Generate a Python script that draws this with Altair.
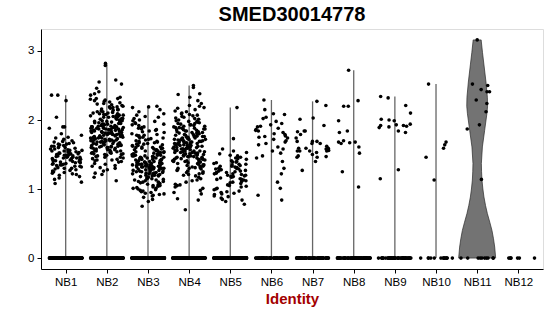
import altair as alt
import pandas as pd

groups = ["NB1", "NB2", "NB3", "NB4", "NB5", "NB6", "NB7", "NB8", "NB9", "NB10", "NB11", "NB12"]

# number of cells with zero expression in each identity
zero_counts = [250, 250, 250, 250, 250, 70, 70, 70, 50, 14, 10, 7]

nb1 = [2.36, 2.36, 2.28, 2.04, 1.90, 1.90, 1.88, 1.80, 1.78, 1.75, 1.74, 1.72, 1.70, 1.69, 1.68, 1.67,
       1.66, 1.65, 1.65, 1.64, 1.63, 1.62, 1.62, 1.61, 1.60, 1.60, 1.59, 1.58, 1.58, 1.57, 1.56, 1.56,
       1.55, 1.55, 1.54, 1.54, 1.53, 1.53, 1.52, 1.52, 1.51, 1.51, 1.50, 1.50, 1.50, 1.49, 1.49, 1.48,
       1.48, 1.47, 1.47, 1.46, 1.46, 1.46, 1.45, 1.45, 1.44, 1.44, 1.43, 1.43, 1.42, 1.42, 1.41, 1.41,
       1.40, 1.40, 1.39, 1.39, 1.38, 1.38, 1.37, 1.37, 1.36, 1.36, 1.35, 1.35, 1.34, 1.33, 1.33, 1.32,
       1.31, 1.30, 1.30, 1.29, 1.28, 1.27, 1.26, 1.25, 1.24, 1.23, 1.22, 1.21, 1.20, 1.18, 1.16, 1.14,
       1.10, 1.08]

nb2 = [2.82, 2.79, 2.58, 2.55, 2.52, 2.46, 2.41, 2.38, 2.36, 2.33, 2.31, 2.31, 2.30,
       2.29, 2.28, 2.27, 2.26, 2.25, 2.24, 2.23, 2.22, 2.21, 2.20,
       2.19, 2.19, 2.18, 2.17, 2.16, 2.15, 2.15, 2.14, 2.13, 2.12, 2.12, 2.11, 2.10, 2.10,
       2.09, 2.09, 2.08, 2.08, 2.07, 2.07, 2.06, 2.06, 2.05, 2.05, 2.04, 2.04, 2.03, 2.03, 2.02, 2.02,
       2.01, 2.01, 2.00, 2.00,
       1.99, 1.99, 1.98, 1.98, 1.97, 1.97, 1.96, 1.96, 1.96, 1.95, 1.95, 1.94, 1.94, 1.94, 1.93, 1.93,
       1.92, 1.92, 1.92, 1.91, 1.91, 1.91, 1.90, 1.90, 1.90, 1.90,
       1.89, 1.89, 1.89, 1.88, 1.88, 1.88, 1.87, 1.87, 1.87, 1.86, 1.86, 1.86, 1.85, 1.85, 1.85, 1.84,
       1.84, 1.84, 1.83, 1.83, 1.83, 1.82, 1.82, 1.82, 1.81, 1.81, 1.81, 1.80, 1.80, 1.80,
       1.79, 1.79, 1.79, 1.78, 1.78, 1.78, 1.77, 1.77, 1.77, 1.76, 1.76, 1.76, 1.75, 1.75, 1.75, 1.74,
       1.74, 1.74, 1.73, 1.73, 1.73, 1.72, 1.72, 1.72, 1.71, 1.71, 1.71, 1.70, 1.70, 1.70,
       1.69, 1.69, 1.69, 1.68, 1.68, 1.68, 1.67, 1.67, 1.66, 1.66, 1.66, 1.65, 1.65, 1.64, 1.64, 1.64,
       1.63, 1.63, 1.62, 1.62, 1.62, 1.61, 1.61, 1.60, 1.60, 1.60,
       1.59, 1.59, 1.58, 1.58, 1.57, 1.57, 1.56, 1.56, 1.55, 1.55, 1.54, 1.54, 1.53, 1.53, 1.52, 1.52,
       1.51, 1.51, 1.50, 1.50,
       1.49, 1.48, 1.47, 1.46, 1.46, 1.45, 1.44, 1.43, 1.42, 1.42, 1.41, 1.40,
       1.39, 1.37, 1.36, 1.34, 1.33, 1.31, 1.30, 1.28, 1.26, 1.23, 1.21, 1.17, 1.12]

nb3 = [2.20, 2.19, 2.18, 2.15, 2.12, 2.09, 2.07, 2.05, 2.04, 2.02, 2.00,
       1.99, 1.98, 1.96, 1.95, 1.94, 1.93, 1.92, 1.90, 1.89, 1.88, 1.87, 1.86, 1.85, 1.84, 1.83, 1.82, 1.80,
       1.79, 1.78, 1.78, 1.77, 1.76, 1.75, 1.74, 1.74, 1.73, 1.72, 1.71, 1.70,
       1.69, 1.69, 1.68, 1.67, 1.67, 1.66, 1.65, 1.65, 1.64, 1.63, 1.63, 1.62, 1.61, 1.61, 1.60, 1.60,
       1.59, 1.59, 1.58, 1.58, 1.57, 1.57, 1.56, 1.56, 1.55, 1.55, 1.54, 1.54, 1.53, 1.53, 1.52, 1.52,
       1.51, 1.51, 1.50, 1.50,
       1.49, 1.49, 1.49, 1.48, 1.48, 1.48, 1.47, 1.47, 1.46, 1.46, 1.46, 1.45, 1.45, 1.45, 1.44, 1.44,
       1.43, 1.43, 1.43, 1.42, 1.42, 1.41, 1.41, 1.41, 1.40, 1.40,
       1.39, 1.39, 1.39, 1.38, 1.38, 1.38, 1.37, 1.37, 1.37, 1.36, 1.36, 1.36, 1.35, 1.35, 1.35, 1.34,
       1.34, 1.34, 1.33, 1.33, 1.33, 1.32, 1.32, 1.32, 1.31, 1.31, 1.31, 1.30, 1.30, 1.30,
       1.29, 1.29, 1.28, 1.28, 1.28, 1.27, 1.27, 1.26, 1.26, 1.25, 1.25, 1.25, 1.24, 1.24, 1.23, 1.23,
       1.22, 1.22, 1.22, 1.21, 1.21, 1.20, 1.20, 1.20,
       1.19, 1.19, 1.18, 1.17, 1.17, 1.16, 1.15, 1.15, 1.14, 1.13, 1.13, 1.12, 1.11, 1.11, 1.10, 1.10,
       1.09, 1.08, 1.07, 1.06, 1.05, 1.05, 1.04, 1.03, 1.02, 1.01, 1.01, 1.00,
       0.99, 0.98, 0.97, 0.96, 0.95, 0.94, 0.93, 0.92, 0.91, 0.90, 0.88, 0.85, 0.82, 0.75]

nb4 = [2.50, 2.47, 2.38, 2.37, 2.33, 2.28, 2.24, 2.21, 2.20, 2.18, 2.17, 2.15, 2.13, 2.12, 2.10,
       2.09, 2.08, 2.07, 2.06, 2.05, 2.04, 2.03, 2.02, 2.01, 2.00,
       1.99, 1.98, 1.98, 1.97, 1.96, 1.95, 1.95, 1.94, 1.93, 1.93, 1.92, 1.91, 1.91, 1.90,
       1.89, 1.89, 1.88, 1.88, 1.87, 1.87, 1.86, 1.86, 1.85, 1.84, 1.84, 1.83, 1.83, 1.82, 1.82, 1.81,
       1.81, 1.80,
       1.79, 1.79, 1.78, 1.78, 1.77, 1.77, 1.76, 1.76, 1.76, 1.75, 1.75, 1.74, 1.74, 1.73, 1.73, 1.72,
       1.72, 1.72, 1.71, 1.71, 1.70, 1.70,
       1.69, 1.69, 1.69, 1.68, 1.68, 1.68, 1.67, 1.67, 1.66, 1.66, 1.66, 1.65, 1.65, 1.65, 1.64, 1.64,
       1.63, 1.63, 1.63, 1.62, 1.62, 1.61, 1.61, 1.61, 1.60, 1.60,
       1.59, 1.59, 1.59, 1.58, 1.58, 1.58, 1.57, 1.57, 1.56, 1.56, 1.56, 1.55, 1.55, 1.55, 1.54, 1.54,
       1.53, 1.53, 1.53, 1.52, 1.52, 1.51, 1.51, 1.51, 1.50, 1.50,
       1.49, 1.49, 1.48, 1.48, 1.47, 1.47, 1.47, 1.46, 1.46, 1.45, 1.45, 1.44, 1.44, 1.43, 1.43, 1.43,
       1.42, 1.42, 1.41, 1.41, 1.40, 1.40,
       1.39, 1.39, 1.38, 1.37, 1.37, 1.36, 1.35, 1.35, 1.34, 1.33, 1.33, 1.32, 1.31, 1.31, 1.30, 1.30,
       1.29, 1.28, 1.27, 1.26, 1.25, 1.24, 1.23, 1.22, 1.21, 1.20,
       1.19, 1.17, 1.15, 1.13, 1.12, 1.10, 1.07, 1.06, 1.05, 1.03, 1.01, 0.98, 0.95, 0.93, 0.86, 0.84,
       0.70]

nb5 = [2.18, 1.73, 1.58, 1.55, 1.53, 1.51, 1.49, 1.48, 1.46, 1.45, 1.44, 1.43, 1.41, 1.40,
       1.39, 1.39, 1.38, 1.37, 1.36, 1.36, 1.35, 1.34, 1.33, 1.33, 1.32, 1.31, 1.30, 1.30,
       1.29, 1.29, 1.28, 1.28, 1.27, 1.26, 1.26, 1.25, 1.24, 1.24, 1.23, 1.22, 1.22, 1.21, 1.20, 1.20,
       1.19, 1.18, 1.18, 1.17, 1.16, 1.15, 1.14, 1.14, 1.13, 1.12, 1.11, 1.10,
       1.09, 1.08, 1.06, 1.05, 1.04, 1.03, 1.01, 1.00,
       0.99, 0.97, 0.96, 0.95, 0.94, 0.93, 0.92, 0.90, 0.89, 0.87, 0.85, 0.84, 0.82, 0.78]

nb6 = [2.29, 2.15, 2.09, 2.08, 2.04, 2.02, 1.98, 1.95, 1.93, 1.91, 1.90, 1.88, 1.86, 1.85, 1.84,
       1.82, 1.80, 1.79, 1.77, 1.76, 1.75, 1.74, 1.72, 1.70, 1.68, 1.66, 1.64, 1.61, 1.58, 1.55,
       1.52, 1.48, 1.45, 1.40, 1.30, 1.22, 1.10, 1.01, 0.91, 0.84]

nb7 = [2.27, 2.21, 2.03, 2.01, 1.92, 1.84, 1.84, 1.83, 1.79, 1.74, 1.69, 1.69, 1.69, 1.66, 1.66,
       1.62, 1.59, 1.59, 1.59, 1.58, 1.57, 1.56, 1.55, 1.55, 1.55, 1.55, 1.53, 1.50, 1.48, 1.47,
       1.46, 1.46, 1.40, 1.27]

nb8 = [2.72, 2.28, 2.20, 2.20, 1.99, 1.84, 1.82, 1.70, 1.68, 1.68, 1.67, 1.66, 1.61, 1.52, 1.25, 1.03]

nb9 = [2.34, 2.32, 2.21, 2.10, 2.01, 2.00, 1.99, 1.94, 1.93, 1.92, 1.92, 1.91, 1.90, 1.89, 1.84,
       1.82, 1.28, 1.15]

nb10 = [2.52, 1.68, 1.64, 1.59, 1.46, 1.13]

nb11 = [3.16, 2.52, 2.50, 2.44, 2.41, 2.41, 2.29, 2.24, 2.12, 1.93, 1.87, 1.14]

nb12 = []

nonzero = [nb1, nb2, nb3, nb4, nb5, nb6, nb7, nb8, nb9, nb10, nb11, nb12]

# NB11 violin outline: expression level and half-width (in category units)
nb11_level = [0.00, 0.16, 0.28, 0.40, 0.52, 0.645, 0.76, 0.885, 1.00, 1.13, 1.25, 1.37, 1.61,
              1.85, 2.09, 2.20, 2.33, 2.55, 2.81, 2.98, 3.16]
nb11_half = [0.450, 0.426, 0.397, 0.360, 0.307, 0.248, 0.204, 0.165, 0.139, 0.117, 0.107, 0.102,
             0.127, 0.182, 0.236, 0.253, 0.248, 0.214, 0.163, 0.129, 0.097]

rows = []
for k, g in enumerate(groups):
    vals = [0.0] * zero_counts[k] + nonzero[k]
    for i, v in enumerate(vals):
        rows.append({"group": g, "pos": k + 1, "i": i, "value": v})
df = pd.DataFrame(rows)

vdf = pd.DataFrame({"level": nb11_level, "half": nb11_half})
vdf["pos"] = groups.index("NB11") + 1

FONT = "Liberation Sans"

xscale = alt.Scale(domain=[0.4, 12.6], nice=False, zero=False)
yscale = alt.Scale(domain=[-0.158, 3.318], nice=False, zero=False)

xaxis = alt.Axis(values=list(range(1, 13)), labelExpr="'NB' + datum.value", title="Identity",
                 grid=False, domainColor="black", tickColor="black", tickSize=4, labelPadding=3,
                 labelFontSize=11.5, labelColor="black", labelFont=FONT,
                 titleFont=FONT, titleFontSize=15, titleFontWeight="bold", titleColor="#a30000",
                 titlePadding=4, labelFlush=False)
yaxis = alt.Axis(values=[0, 1, 2, 3], title=None, grid=False, domainColor="black",
                 tickColor="black", tickSize=4, labelPadding=3, labelFontSize=11.5,
                 labelColor="black", labelFont=FONT, labelFlush=False)

violin = alt.Chart(vdf).transform_calculate(
    xl="datum.pos - datum.half", xr="datum.pos + datum.half"
).mark_area(orient="horizontal", fill="#737373", stroke="#2a2a2a", strokeWidth=0.7,
            fillOpacity=1).encode(
    y=alt.Y("level:Q", scale=yscale, axis=yaxis),
    x=alt.X("xl:Q", scale=xscale, axis=xaxis),
    x2="xr:Q",
)

rules = alt.Chart(df).transform_filter(
    "datum.group != 'NB11'"
).transform_aggregate(
    vmax="max(value)", groupby=["group", "pos"]
).transform_calculate(vmin="0").mark_rule(color="#666666", strokeWidth=1.3).encode(
    x=alt.X("pos:Q", scale=xscale, axis=xaxis),
    y=alt.Y("vmin:Q", scale=yscale, axis=yaxis),
    y2="vmax:Q",
)

points = alt.Chart(df).transform_calculate(
    u="(((sin(datum.i * 12.9898 + datum.pos * 78.233) * 43758.5453) % 1) + 1) % 1",
).transform_calculate(
    xj="datum.pos + (datum.u - 0.5) * 0.8"
).mark_circle(size=13, color="black", opacity=1).encode(
    x=alt.X("xj:Q", scale=xscale, axis=xaxis),
    y=alt.Y("value:Q", scale=yscale, axis=yaxis),
)

chart = alt.layer(violin, rules, points).properties(
    width=502, height=240,
    title=alt.Title("SMED30014778", fontSize=20, fontWeight="bold", font=FONT, color="black",
                    anchor="middle", offset=4),
    autosize=alt.AutoSizeParams(type="none"),
    padding={"left": 41, "top": 29, "right": 7, "bottom": 47},
).configure_view(stroke=None).configure(background="white")

chart.save("out.html", embed_options={"renderer": "svg", "actions": False})
